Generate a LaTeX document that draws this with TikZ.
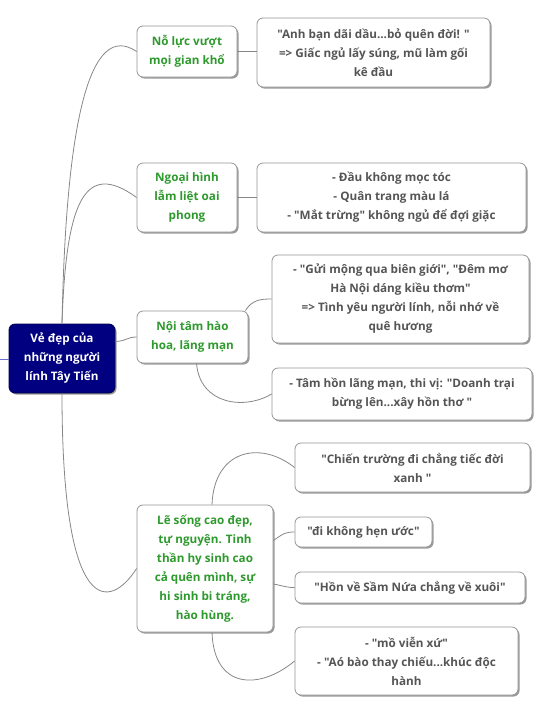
\documentclass[tikz,border=0pt]{standalone}
\usepackage{fontspec}
\setmainfont{Open Sans}[Ligatures=TeXOff]
\usetikzlibrary{shadows}
\definecolor{navyroot}{RGB}{0,0,128}
\definecolor{branchgreen}{RGB}{46,154,46}
\definecolor{leafgray}{RGB}{85,85,85}
\definecolor{boxborder}{RGB}{150,150,150}
\definecolor{linkgray}{RGB}{135,135,135}
\definecolor{purpleline}{RGB}{110,110,210}
\begin{document}
\begin{tikzpicture}[x=1pt,y=-1pt,
  box/.style={draw=boxborder, line width=0.8pt, fill=white, rounded corners=6pt,
    align=center, inner sep=2pt, font=\bfseries\fontsize{11.7}{19}\selectfont,
    drop shadow={shadow xshift=1.5pt, shadow yshift=-1.5pt, opacity=0.4, fill=black}},
  rootbox/.style={box, fill=navyroot, draw=navyroot!60!black, text=white},
  branch/.style={box, text=branchgreen},
  leaf/.style={box, text=leafgray},
  link/.style={draw=linkgray, line width=0.8pt}]
\useasboundingbox (0,0) rectangle (544,716);

% root
\node[rootbox, minimum width=106pt, minimum height=69pt] (root) at (62,358.5)
  {Vẻ đẹp của\\những người\\lính Tây Tiến};
\coordinate (lefte) at (0,359);

% branches
\node[branch, minimum width=100pt, minimum height=51pt] (b1) at (187,51.5)
  {Nỗ lực vượt\\mọi gian khổ};
\node[branch, minimum width=100pt, minimum height=69pt] (b2) at (187,197.5)
  {Ngoại hình\\lẫm liệt oai\\phong};
\node[branch, minimum width=111pt, minimum height=52pt] (b3) at (192.5,337)
  {Nội tâm hào\\hoa, lãng mạn};
\node[branch, minimum width=136pt, minimum height=127pt] (b4) at (205,568.5)
  {Lẽ sống cao đẹp,\\tự nguyện. Tinh\\thần hy sinh cao\\cả quên mình, sự\\hi sinh bi tráng,\\hào hùng.};

% leaves
\node[leaf, minimum width=233pt, minimum height=69pt] (l1) at (373.5,52.5)
  {"Anh bạn dãi dầu...bỏ quên đời! "\\=> Giấc ngủ lấy súng, mũ làm gối\\kê đầu};
\node[leaf, minimum width=269pt, minimum height=69pt] (l2) at (391.5,197.5)
  {- Đầu không mọc tóc\\- Quân trang màu lá\\- "Mắt trừng" không ngủ để đợi giặc};
\node[leaf, minimum width=257pt, minimum height=88pt] (l3a) at (400.5,299)
  {- "Gửi mộng qua biên giới", "Đêm mơ\\Hà Nội dáng kiều thơm"\\=> Tình yêu người lính, nỗi nhớ về\\quê hương};
\node[leaf, minimum width=260pt, minimum height=52pt] (l3b) at (402,394)
  {- Tâm hồn lãng mạn, thi vị: "Doanh trại\\bừng lên...xây hồn thơ "};
\node[leaf, minimum width=235pt, minimum height=49pt] (l4a) at (412.5,467.5)
  {"Chiến trường đi chẳng tiếc đời\\xanh "};
\node[leaf, minimum width=137pt, minimum height=30pt] (l4b) at (363.5,532)
  {"đi không hẹn ước"};
\node[leaf, minimum width=230pt, minimum height=31pt] (l4c) at (410,587.5)
  {"Hồn về Sầm Nứa chẳng về xuôi"};
\node[leaf, minimum width=223pt, minimum height=68pt] (l4d) at (406.5,661)
  {- "mồ viễn xứ"\\- "Aó bào thay chiếu...khúc độc\\hành};

% connectors
\draw[draw=purpleline, line width=0.8pt] (lefte) -- (root.west |- lefte);
\draw[link] (root.north) .. controls (66,120) and (90,20) .. (b1.west);
\draw[link] (root.north) .. controls (66,200) and (85,160) .. (b2.west);
\draw[link] ([yshift=17pt]root.east) .. controls (127,341) and (127,337) .. (b3.west);
\draw[link] (root.south) .. controls (62,620) and (110,610) .. (b4.west);

\draw[link] (b1.east) -- (b1.east -| l1.west);
\draw[link] (b2.east) -- (b2.east -| l2.west);
\draw[link] ([xshift=-3pt]b3.north east) .. controls (252,300) and (260,299) .. (l3a.west);
\draw[link] ([xshift=4pt]b3.south) .. controls (200,405) and (245,410) .. (l3b.west);
\draw[link] ([xshift=7pt]b4.north) .. controls (214,450) and (260,440) .. (l4a.west);
\draw[link] ([yshift=28pt]b4.east) .. controls (284,533) and (286,532) .. (l4b.west);
\draw[link] ([yshift=-15.5pt]b4.east) .. controls (284,586) and (286,587.5) .. (l4c.west);
\draw[link] ([xshift=7pt]b4.south) .. controls (214,690) and (260,690) .. (l4d.west);
\end{tikzpicture}
\end{document}
